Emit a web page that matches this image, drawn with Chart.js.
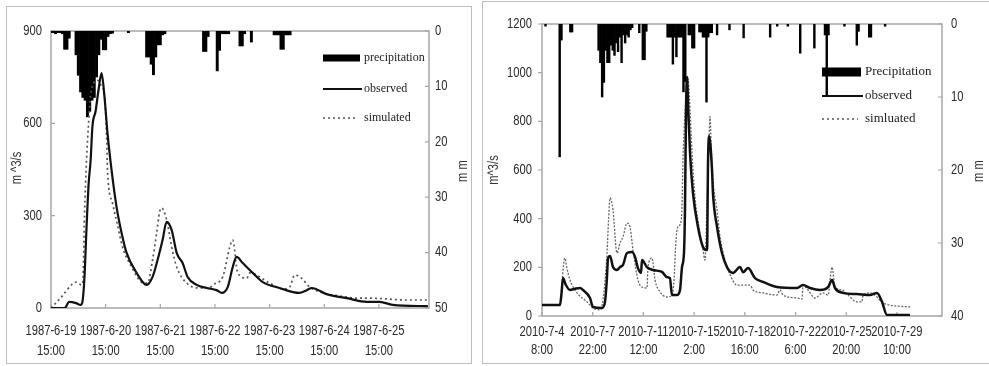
<!DOCTYPE html>
<html>
<head>
<meta charset="utf-8">
<script src="https://cdn.jsdelivr.net/npm/chart.js@4.4.1/dist/chart.umd.min.js"></script>
<style>
  html, body { margin: 0; padding: 0; background: #fff; }
  body { width: 989px; height: 366px; overflow: hidden; position: relative; }
  .frame { position: absolute; border: 1px solid #bdbdbd; }
  canvas { position: absolute; top: 0; }
</style>
</head>
<body>
<div class="frame" style="left:6px;top:6px;width:464px;height:356px"></div>
<div class="frame" style="left:482px;top:1px;width:520px;height:361px"></div>
<canvas id="chart1" width="476" height="366" style="left:0"></canvas>
<canvas id="chart2" width="509" height="366" style="left:480px"></canvas>
<script>
// ---- 1987 event (hours after 1987-6-19 15:00) ----
const leftTickHours = [0, 24, 48, 72, 96, 120, 144];
const leftTickDates = ['1987-6-19', '1987-6-20', '1987-6-21', '1987-6-22', '1987-6-23', '1987-6-24', '1987-6-25'];
const leftTickTimes = ['15:00', '15:00', '15:00', '15:00', '15:00', '15:00', '15:00'];

const leftObsT = [0, 6, 8, 11, 13, 13.8, 14.7, 15.6, 16.5, 17.4, 18.2, 19.6, 20.9, 22.2, 23.5, 24.8, 26.6, 28.8, 31, 33.2, 37.6, 42, 44.6, 46.8, 49, 50.8, 53, 55.2, 57.8, 60, 64, 68.4, 72.7, 75, 77.6, 79.8, 81.5, 84.2, 88.6, 93, 100.4, 109, 112.3, 114.5, 121, 129.9, 138.7, 144.4, 150, 165.5];
const leftObsQ = [0, 0, 20, 16, 10, 20, 100, 260, 400, 480, 590, 640, 710, 763, 685, 569, 448, 328, 244, 179, 114, 75, 101, 156, 221, 280, 253, 179, 146, 101, 75, 65, 58, 49, 68, 133, 166, 146, 114, 84, 65, 49, 58, 65, 45, 32, 20, 20, 10, 6];

const leftSimT = [0, 4.6, 9, 11.2, 13.4, 14, 14.7, 15.6, 16.5, 17.4, 18.7, 20.4, 22.2, 23.5, 24.4, 24.8, 27, 29.2, 31.4, 35.4, 39.8, 42.4, 44.6, 46.4, 47.7, 48.6, 50.8, 53, 55.2, 59.6, 65.3, 69.7, 71, 75.4, 78.5, 79.8, 82, 86, 87.3, 96, 101.8, 104.8, 107, 110, 113.6, 119.3, 126.8, 134.3, 140, 156.3, 165.5];
const leftSimQ = [0, 36, 75, 84, 75, 90, 300, 480, 600, 690, 730, 740, 720, 690, 560, 448, 341, 270, 198, 133, 84, 81, 156, 244, 312, 325, 286, 198, 133, 81, 65, 65, 75, 101, 198, 221, 114, 97, 114, 81, 62, 68, 107, 97, 68, 49, 39, 32, 32, 26, 26];

const leftRainT = [0, 1, 2, 3, 4, 5, 6, 7, 8, 11, 12, 13, 14, 15, 16, 17, 18, 19, 20, 21, 22, 23, 24, 25, 26, 27, 34, 42, 43, 44, 45, 46, 47, 48, 49, 50, 67, 68, 69, 73, 74, 75, 76, 77, 78, 83, 84, 85, 88, 98, 99, 100, 101, 102, 103, 104, 105];
const leftRainMm = [0.3, 0.3, 0.5, 0.3, 0.3, 0.5, 3.3, 3.3, 1.3, 4.3, 8, 11, 12, 12.5, 15.5, 14.5, 12.5, 12, 8.3, 4.3, 1.5, 3.4, 3.4, 1, 0.5, 0.4, 0.3, 4.7, 4.7, 6, 7.9, 4.7, 2.5, 2.5, 0.7, 0.5, 3.7, 3.7, 1, 7.2, 3.5, 0.5, 0.5, 0.5, 0.5, 2.7, 2.7, 0.5, 2, 0.7, 0.7, 0.7, 3.3, 3.3, 0.7, 0.7, 0.7];

// ---- 2010 event (hours after 2010-7-4 8:00) ----
const rightTickHours = [0, 86, 172, 258, 344, 430, 516, 602];
const rightTickDates = ['2010-7-4', '2010-7-7', '2010-7-11', '2010-7-15', '2010-7-18', '2010-7-22', '2010-7-25', '2010-7-29'];
const rightTickTimes = ['8:00', '22:00', '12:00', '2:00', '16:00', '6:00', '20:00', '10:00'];

const rightObsT = [0, 30.5, 33, 35.6, 40, 47.5, 56, 64.5, 69.5, 81.4, 86.5, 101.8, 106.9, 110, 112, 115.4, 120.4, 127.2, 132.3, 137.4, 144.2, 152.7, 157.8, 162.8, 168, 169.6, 178, 188.3, 203.6, 212, 217, 220.5, 229, 234.1, 237.5, 240.9, 242.6, 244.3, 246, 247.7, 251.1, 256.1, 264.6, 273.1, 280, 281.6, 283.3, 288.4, 290, 296.9, 305.3, 313.8, 324, 335.9, 341, 349.4, 361.3, 374.9, 398.6, 432.6, 442.7, 454.6, 471.6, 485.2, 492, 497, 510.6, 534.3, 556.4, 568.3, 576.8, 585.2, 624.3];
const rightObsQ = [45, 45, 90, 156, 130, 107, 112, 115, 107, 74, 37, 33, 58, 150, 238, 247, 201, 189, 201, 210, 259, 263, 243, 197, 177, 230, 201, 189, 181, 160, 156, 86, 86, 107, 201, 263, 450, 847, 982, 875, 670, 505, 366, 284, 271, 629, 740, 600, 505, 366, 259, 201, 177, 201, 180, 197, 156, 140, 119, 115, 127, 115, 107, 119, 148, 115, 95, 90, 86, 95, 58, 4, 4];

const rightSimT = [0, 30.5, 34, 37, 39, 42, 47.5, 59.4, 76.3, 86.5, 98.4, 103.5, 110.3, 113, 115.4, 120.4, 127.2, 132.3, 137.4, 144.2, 149.3, 154.4, 162.8, 169.6, 178.1, 179.8, 186.6, 191.7, 200.2, 212, 220.5, 224, 227, 230, 234, 237.5, 239.2, 243, 246, 247.7, 250, 254.5, 259.5, 268, 273.1, 276.5, 279.9, 283, 285, 287, 290, 296.9, 302, 310.4, 318.9, 330.8, 352.8, 357.9, 374.9, 398.6, 403.7, 408.8, 432.6, 441, 442.7, 451.2, 463.1, 476.7, 485.2, 492, 497, 508.9, 519.1, 534.3, 542.8, 544.5, 556.4, 568.3, 578.5, 624.3];
const rightSimQ = [45, 45, 140, 220, 238, 200, 148, 95, 58, 33, 25, 66, 259, 400, 485, 436, 259, 300, 325, 382, 366, 271, 148, 119, 115, 201, 238, 148, 99, 78, 86, 150, 300, 365, 375, 448, 641, 850, 929, 975, 900, 670, 489, 341, 271, 230, 464, 700, 820, 700, 559, 436, 325, 230, 170, 127, 127, 107, 95, 86, 107, 86, 74, 70, 127, 107, 74, 95, 86, 201, 119, 107, 86, 58, 58, 86, 95, 78, 53, 37];

const rightRainT = [6, 30, 33, 48, 51, 96, 99, 102, 105, 108, 111, 114, 117, 120, 123, 126, 129, 132, 135, 138, 141, 144, 147, 150, 153, 165, 171, 174, 177, 213, 216, 219, 222, 225, 228, 231, 234, 237, 240, 243, 249, 252, 255, 258, 267, 270, 273, 276, 279, 282, 285, 288, 297, 318, 342, 387, 399, 417, 438, 462, 480, 483, 486, 513, 534, 537, 555, 558, 582];
const rightRainMm = [0.3, 18.2, 2.2, 1.1, 1.1, 3.6, 5.3, 10, 8, 3.6, 5.3, 5.3, 2.9, 3.6, 4.3, 2.6, 3.8, 1.8, 5.3, 1.5, 2.6, 1.5, 1.8, 0.8, 0.5, 1.2, 4.9, 4.9, 1, 1.8, 1.8, 1.8, 5.5, 1.8, 4.5, 1.8, 1.8, 1.8, 9.3, 7.9, 1.5, 1.5, 3.3, 3.3, 1.1, 1.1, 1.8, 1.8, 10.7, 1.8, 1.2, 1.2, 1.5, 0.8, 1.9, 1.8, 0.3, 0.3, 4, 3.3, 1.5, 9.7, 1.5, 0.3, 2.9, 1, 1.8, 1.8, 0.3];

const SANS = "'Liberation Sans', Arial, sans-serif";
const SERIF = "'Liberation Serif', 'Times New Roman', serif";
const SQUEEZE = 0.8; // the original uses a narrow face, none is installed

// narrow text: squeeze a normal face horizontally
function narrowText(ctx, text, x, y, align, rotate) {
  ctx.save();
  ctx.translate(x, y);
  if (rotate) ctx.rotate(-Math.PI / 2);
  ctx.scale(SQUEEZE, 1);
  ctx.textAlign = align;
  ctx.fillText(text, 0, 0);
  ctx.restore();
}

// box, inward tick marks, tick labels, rotated axis titles and the hand placed legend
function decorations(p) {
  return {
    id: 'decor',
    beforeDatasetsDraw(chart) {
      const { ctx, chartArea: a, scales } = chart;
      ctx.save();
      ctx.strokeStyle = '#a6a6a6';
      ctx.lineWidth = 1.5;
      ctx.strokeRect(a.left, a.top, a.right - a.left, a.bottom - a.top);
      ctx.lineWidth = 1.2;
      ctx.beginPath();
      scales.x.ticks.forEach(t => {
        const px = scales.x.getPixelForValue(t.value);
        ctx.moveTo(px, a.bottom); ctx.lineTo(px, a.bottom - 4);
      });
      scales.y.ticks.forEach(t => {
        const py = scales.y.getPixelForValue(t.value);
        ctx.moveTo(a.left, py); ctx.lineTo(a.left + p.yTickDir * 4, py);
      });
      scales.y2.ticks.forEach(t => {
        const py = scales.y2.getPixelForValue(t.value);
        ctx.moveTo(a.right, py); ctx.lineTo(a.right - 4, py);
      });
      ctx.stroke();
      ctx.restore();
    },
    afterDraw(chart) {
      const { ctx, chartArea: a, scales } = chart;
      ctx.save();
      ctx.fillStyle = '#2a2a2a';
      ctx.font = '14px ' + SANS;
      ctx.textBaseline = 'middle';

      scales.x.ticks.forEach((t, i) => {
        const px = scales.x.getPixelForValue(t.value);
        narrowText(ctx, p.tickDate[i], px, a.bottom + p.xLine1, 'center');
        narrowText(ctx, p.tickTime[i], px, a.bottom + p.xLine1 + p.lineH, 'center');
      });
      scales.y.ticks.forEach(t => {
        narrowText(ctx, String(t.value), a.left - p.yPad, scales.y.getPixelForValue(t.value), 'right');
      });
      scales.y2.ticks.forEach(t => {
        narrowText(ctx, String(t.value), a.right + p.y2Pad, scales.y2.getPixelForValue(t.value), 'left');
      });

      ctx.fillStyle = '#333';
      p.titles.forEach(tt => narrowText(ctx, tt.text, tt.x, tt.y, 'center', true));

      const lg = p.legend;
      ctx.fillStyle = '#000';
      ctx.fillRect(lg.x0, lg.rows[0] - lg.boxH / 2, lg.x1 - lg.x0, lg.boxH);
      ctx.strokeStyle = '#111';
      ctx.lineWidth = 2;
      ctx.beginPath(); ctx.moveTo(lg.x0, lg.rows[1]); ctx.lineTo(lg.x1 + 2, lg.rows[1]); ctx.stroke();
      ctx.strokeStyle = '#555';
      ctx.lineWidth = 1.5;
      ctx.setLineDash([2, 3]);
      ctx.beginPath(); ctx.moveTo(lg.x0, lg.rows[2]); ctx.lineTo(lg.x1 - 3, lg.rows[2]); ctx.stroke();
      ctx.setLineDash([]);
      ctx.font = lg.font;
      ctx.fillStyle = '#222';
      ctx.textAlign = 'left';
      lg.labels.forEach((s, i) => ctx.fillText(s, lg.tx, lg.rows[i]));
      ctx.restore();
    }
  };
}

function drawPanel(id, p) {
  const pts = (xs, ys) => xs.map((x, i) => ({ x: x, y: ys[i] }));
  const hidden = { display: false, drawTicks: false };
  return new Chart(document.getElementById(id).getContext('2d'), {
    type: 'line',
    data: {
      datasets: [
        {
          type: 'line', label: p.legend.labels[1], data: pts(p.obsT, p.obsQ), yAxisID: 'y',
          borderColor: '#111', borderWidth: p.obsW, pointRadius: 0,
          cubicInterpolationMode: 'monotone', order: 1
        },
        {
          type: 'line', label: p.legend.labels[2], data: pts(p.simT, p.simQ), yAxisID: 'y',
          borderColor: p.simColor, borderWidth: p.simW, borderDash: p.simDash, pointRadius: 0,
          cubicInterpolationMode: 'monotone', order: 2
        },
        {
          type: 'bar', label: p.legend.labels[0], data: pts(p.rainT, p.rainMm), yAxisID: 'y2',
          backgroundColor: '#000', barPercentage: 1, categoryPercentage: 1, order: 3
        }
      ]
    },
    options: {
      responsive: false,
      animation: false,
      layout: { padding: { top: p.top, left: 0, right: 0, bottom: 0 } },
      plugins: { legend: { display: false }, tooltip: { enabled: false } },
      scales: {
        x: {
          type: 'linear', min: 0, max: p.xMax, offset: false,
          grid: hidden, border: { display: false }, ticks: { display: false },
          afterBuildTicks: s => { s.ticks = p.tickT.map(v => ({ value: v })); },
          afterFit: s => { s.height = p.xH; }
        },
        y: {
          position: 'left', min: 0, max: p.qMax,
          grid: hidden, border: { display: false }, ticks: { display: false, stepSize: p.qStep },
          afterFit: s => { s.width = p.yW; }
        },
        y2: {
          position: 'right', reverse: true, min: 0, max: p.mmMax,
          grid: hidden, border: { display: false }, ticks: { display: false, stepSize: 10 },
          afterFit: s => { s.width = p.y2W; }
        }
      }
    },
    plugins: [decorations(p)]
  });
}

drawPanel('chart1', {
  obsT: leftObsT, obsQ: leftObsQ, simT: leftSimT, simQ: leftSimQ,
  rainT: leftRainT, rainMm: leftRainMm,
  tickT: leftTickHours, tickDate: leftTickDates, tickTime: leftTickTimes,
  xMax: 166, qMax: 900, qStep: 300, mmMax: 50,
  top: 31, xH: 58, yW: 51, y2W: 47,
  xLine1: 23, lineH: 20, yPad: 9, y2Pad: 6, yTickDir: 1,
  obsW: 2.2, simW: 1.7, simColor: '#555', simDash: [2, 3],
  titles: [{ text: 'm ^3/s', x: 17, y: 168 }, { text: 'm m', x: 463, y: 171 }],
  legend: {
    labels: ['precipitation', 'observed', 'simulated'],
    x0: 323, x1: 360, tx: 364, rows: [58, 89, 118], boxH: 7, font: '12px ' + SERIF
  }
});

drawPanel('chart2', {
  obsT: rightObsT, obsQ: rightObsQ, simT: rightSimT, simQ: rightSimQ,
  rainT: rightRainT, rainMm: rightRainMm,
  tickT: rightTickHours, tickDate: rightTickDates, tickTime: rightTickTimes,
  xMax: 678.5, qMax: 1200, qStep: 200, mmMax: 40,
  top: 24, xH: 50, yW: 62, y2W: 47,
  xLine1: 16, lineH: 18, yPad: 10, y2Pad: 9, yTickDir: -1,
  obsW: 2.5, simW: 1.3, simColor: '#666', simDash: [2, 1.5],
  titles: [{ text: 'm^3/s', x: 14, y: 170 }, { text: 'm m', x: 499, y: 171 }],
  legend: {
    labels: ['Precipitation', 'observed', 'simluated'],
    x0: 342, x1: 381, tx: 385, rows: [72, 96, 119], boxH: 9, font: '13px ' + SERIF
  }
});
</script>
</body>
</html>
